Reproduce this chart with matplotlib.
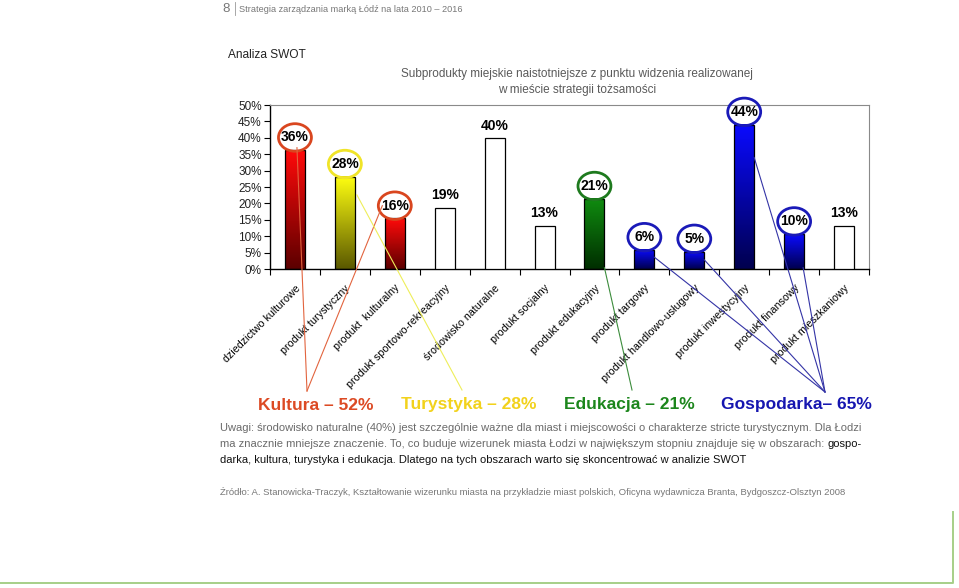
import matplotlib.pyplot as plt
import numpy as np
from matplotlib.patches import Ellipse
from matplotlib.lines import Line2D
from matplotlib.colors import LinearSegmentedColormap
from matplotlib import font_manager

categories = ['dziedzictwo kulturowe', 'produkt turystyczny', 'produkt  kulturalny',
              'produkt sportowo-rekreacyjny', 'środowisko naturalne', 'produkt socjalny',
              'produkt edukacyjny', 'produkt targowy', 'produkt handlowo-usługowy',
              'produkt inwestycyjny', 'produkt finansowy', 'produkt mieszkaniowy']
values = [36.2, 28.1, 15.4, 18.7, 39.8, 13.2, 21.4, 5.8, 5.3, 44.0, 10.6, 13.2]
value_labels = ['36%', '28%', '16%', '19%', '40%', '13%', '21%', '6%', '5%', '44%', '10%', '13%']
bar_groups = ['kultura', 'turystyka', 'kultura', None, None, None,
              'edukacja', 'gospodarka', 'gospodarka', 'gospodarka', 'gospodarka', None]

summary_keys = ['kultura', 'turystyka', 'edukacja', 'gospodarka']
summary_texts = ['Kultura – 52%', 'Turystyka – 28%', 'Edukacja – 21%', 'Gospodarka– 65%']

yticks = np.arange(0, 51, 5)

# colours per group
group_col = {'kultura': '#dc4a24', 'turystyka': '#f2d21c', 'edukacja': '#1c861c', 'gospodarka': '#1616b0'}
ell_col = {'kultura': '#d9461f', 'turystyka': '#f0e428', 'edukacja': '#1e7a1e', 'gospodarka': '#1a1ab8'}
line_col = {'kultura': '#e2643e', 'turystyka': '#eeee5a', 'edukacja': '#3c8c3c', 'gospodarka': '#3434a6'}
grad = {'kultura': ('#5c0000', '#ff0a0a'), 'turystyka': ('#5a5800', '#ffff10'),
        'edukacja': ('#002e00', '#108c10'), 'gospodarka': ('#00004e', '#0a0aff')}

names = {f.name for f in font_manager.fontManager.ttflist}
NARROW = 'Liberation Sans Narrow' in names
thin = ['Liberation Sans Narrow', 'Liberation Sans'] if NARROW else ['Liberation Sans']
k = 1.0 if NARROW else 0.82

W, H = 959, 588
fig = plt.figure(figsize=(W / 100, H / 100), dpi=100)


def fp(x, y):
    return x / W, 1 - y / H


ax = fig.add_axes([270 / W, 1 - 269 / H, 599 / W, 164 / H])
x = np.arange(len(categories))

# gradient fill for the highlighted bars
for i, (v, g) in enumerate(zip(values, bar_groups)):
    if g is None:
        continue
    cmap = LinearSegmentedColormap.from_list(g, grad[g])
    ax.imshow(np.linspace(0, 1, 128).reshape(-1, 1), cmap=cmap, origin='lower',
              extent=[i - 0.2, i + 0.2, 0, v], aspect='auto', zorder=2)

faces = ['white' if g is None else 'none' for g in bar_groups]
ax.bar(x, values, width=0.4, color=faces, edgecolor='black', linewidth=0.9, zorder=3)

for i, (v, lab, g) in enumerate(zip(values, value_labels, bar_groups)):
    ax.text(i, v + 3.9, lab, ha='center', va='center', fontsize=10, fontweight='bold',
            family='Liberation Sans', color='black', zorder=5)
    if g is not None:
        ax.add_patch(Ellipse((i, v + 3.9), 0.66, 8.4, fill=False, edgecolor=ell_col[g],
                             linewidth=2.0, clip_on=False, zorder=5))

ax.set_xlim(-0.5, len(categories) - 0.5)
ax.set_ylim(0, 50)
ax.set_yticks(yticks)
ax.set_yticklabels([f'{t}%' for t in yticks], fontsize=8.5, family='Liberation Sans', color='#222222')
ax.set_xticks(x)
ax.set_xticklabels(categories, rotation=45, ha='right', va='top', rotation_mode='anchor',
                   fontsize=9.3 * k, family=thin)
ax.set_xticks(np.arange(-0.5, len(categories)), minor=True)
ax.tick_params(axis='x', which='major', length=0, pad=10)
ax.tick_params(axis='x', which='minor', length=4, direction='out', width=0.8)
ax.tick_params(axis='y', length=4, direction='out', width=0.8, pad=2)
ax.spines['top'].set_color('#8a8a8a')
ax.spines['right'].set_color('#8a8a8a')
for s in ['left', 'bottom']:
    ax.spines[s].set_linewidth(1.0)

# summary labels below the chart
sum_x = [315.5, 468.5, 629, 796]
for key, txt, sx in zip(summary_keys, summary_texts, sum_x):
    fig.text(*fp(sx, 405), txt, ha='center', va='center', fontsize=12.5, fontweight='bold',
             family='Liberation Sans', color=group_col[key])

# connector lines: (bar index, x offset, y value) -> target pixel point
links = [
    ('kultura', 0, 0.04, 37.0, (307, 391)),
    ('kultura', 2, -0.25, 19.3, (307, 391)),
    ('turystyka', 1, 0.24, 22.6, (462, 390)),
    ('edukacja', 6, 0.2, 0.4, (632, 390)),
    ('gospodarka', 7, 0.2, 3.6, (825, 392)),
    ('gospodarka', 8, 0.2, 2.8, (825, 392)),
    ('gospodarka', 9, 0.2, 34.0, (825, 392)),
    ('gospodarka', 10, 0.18, 0.4, (825, 392)),
]
for g, bi, dx, yv, tgt in links:
    p0 = fig.transFigure.inverted().transform(ax.transData.transform((bi + dx, yv)))
    p1 = fp(*tgt)
    fig.add_artist(Line2D([p0[0], p1[0]], [p0[1], p1[1]], transform=fig.transFigure,
                          color=line_col[g], linewidth=0.8, zorder=6))

# header and titles
fig.text(*fp(222, 9), '8', ha='left', va='center', fontsize=9.5, color='#777777', family=thin)
fig.add_artist(Line2D([235 / W, 235 / W], [1 - 2 / H, 1 - 15 / H], transform=fig.transFigure,
                      color='#999999', linewidth=0.6))
fig.text(*fp(239, 9), 'Strategia zarządzania marką Łódź na lata 2010 – 2016', ha='left', va='center',
         fontsize=8.0 * k, color='#777777', family=thin)
fig.text(*fp(228, 55), 'Analiza SWOT', ha='left', va='center', fontsize=8.6,
         color='#222222', family='Liberation Sans')
fig.text(*fp(577, 74), 'Subprodukty miejskie naistotniejsze z punktu widzenia realizowanej',
         ha='center', va='center', fontsize=10.3 * k, color='#5a5a5a', family=thin)
fig.text(*fp(577, 90), 'w mieście strategii tożsamości',
         ha='center', va='center', fontsize=10.3 * k, color='#5a5a5a', family=thin)

# notes
note_col = '#6a6a6a'
fs_note = 9.8 * k
fig.text(*fp(220, 428), 'Uwagi: środowisko naturalne (40%) jest szczególnie ważne dla miast i miejscowości '
         'o charakterze stricte turystycznym. Dla Łodzi', ha='left', va='center', fontsize=fs_note,
         color=note_col, family=thin)
t2 = fig.text(*fp(220, 444), 'ma znacznie mniejsze znaczenie. To, co buduje wizerunek miasta Łodzi '
              'w największym stopniu znajduje się w obszarach: ', ha='left', va='center',
              fontsize=fs_note, color=note_col, family=thin)
fig.add_artist(plt.Annotation('gospo-', xy=(1, 0), xycoords=t2, ha='left', va='bottom',
                              fontsize=fs_note, color='#111111', family=thin))
fig.text(*fp(220, 460), 'darka, kultura, turystyka i edukacja. Dlatego na tych obszarach warto się '
         'skoncentrować w analizie SWOT', ha='left', va='center', fontsize=fs_note,
         color='#111111', family=thin)
fig.text(*fp(220, 492), 'Źródło: A. Stanowicka-Traczyk, Kształtowanie wizerunku miasta na przykładzie '
         'miast polskich, Oficyna wydawnicza Branta, Bydgoszcz-Olsztyn 2008', ha='left', va='center',
         fontsize=8.3 * k, color='#777777', family=thin)

# green page frame
fig.add_artist(Line2D([0, 953 / W, 953 / W], [1 - 583 / H, 1 - 583 / H, 1 - 512 / H],
                      transform=fig.transFigure, color='#a6cf88', linewidth=1.4))

fig.savefig('out.png', dpi=100)
